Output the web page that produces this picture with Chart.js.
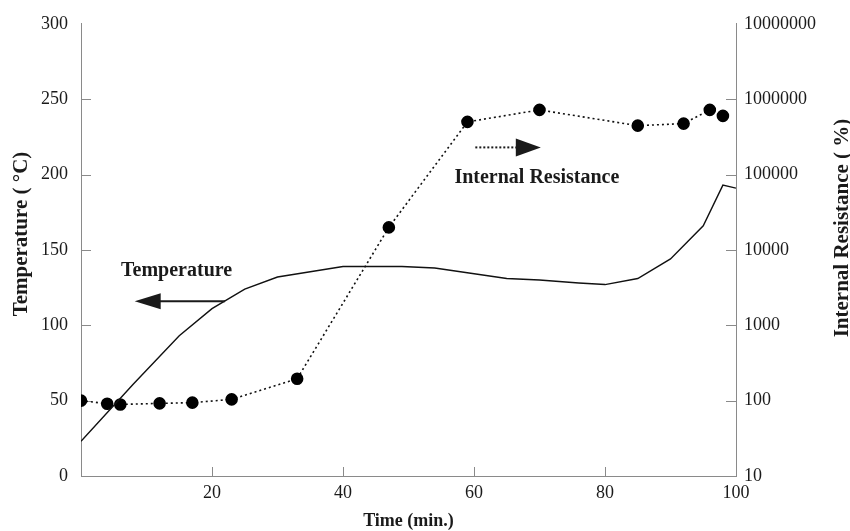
<!DOCTYPE html>
<html>
<head>
<meta charset="utf-8">
<script src="https://cdn.jsdelivr.net/npm/chart.js@4/dist/chart.umd.min.js"></script>
<style>
  html, body { margin: 0; padding: 0; background: #fff; }
  #wrap { width: 850px; height: 531px; }
</style>
</head>
<body>
<div id="wrap"><canvas id="myChart" width="850" height="531"></canvas></div>
<script>
// temperature curve (solid line, left axis)
var tempTime = [0, 8, 15, 20, 25, 30, 40, 49, 54, 65, 70, 76, 80, 85, 90, 95, 98, 100];
var tempValue = [23, 61, 93, 111, 124, 132, 139, 139, 138, 131, 130, 128, 127, 131, 144, 166, 193, 191];

// internal resistance (dotted line with dots, right log axis)
var resTime = [0, 4, 6, 12, 17, 23, 33, 47, 59, 70, 85, 92, 96, 98];
var resValue = [100, 91, 89, 92, 94, 104, 195, 19900, 500000, 720000, 445000, 474000, 720000, 600000];

// tick labels
var timeTicks = [0, 20, 40, 60, 80, 100];
var tempTicks = [0, 50, 100, 150, 200, 250, 300];
var resTicks = [10, 100, 1000, 10000, 100000, 1000000, 10000000];

var axisColor = '#8a8a8a';
var textColor = '#1a1a1a';
var serif = "'Liberation Serif', 'Times New Roman', serif";

// where the annotations sit, in data units
var notes = {
    tempLabel: { t: 14.6, v: 136 },
    tempArrow: { from: 22, to: 8.2, v: 116 },
    resLabel: { t: 69.6, v: 198 },
    resArrow: { from: 60.2, to: 70.2, v: 218 }
};

function pairs(xs, ys) {
    return xs.map(function (x, i) { return { x: x, y: ys[i] }; });
}

// tick marks pointing into the plot
var inwardTicks = {
    id: 'inwardTicks',
    beforeDatasetsDraw: function (chart) {
        var ctx = chart.ctx, a = chart.chartArea, s = chart.scales;
        ctx.save();
        ctx.strokeStyle = axisColor;
        ctx.lineWidth = 1;
        ctx.beginPath();
        timeTicks.forEach(function (v) {
            if (v <= 0 || v >= 100) return;
            var px = Math.round(s.x.getPixelForValue(v)) + 0.5;
            ctx.moveTo(px, a.bottom);
            ctx.lineTo(px, a.bottom - 9);
        });
        tempTicks.forEach(function (v) {
            if (v <= 0 || v >= 300) return;
            var py = Math.round(s.y.getPixelForValue(v)) + 0.5;
            ctx.moveTo(a.left, py);
            ctx.lineTo(a.left + 10, py);
        });
        resTicks.forEach(function (v) {
            if (v <= 10 || v >= 10000000) return;
            var py = Math.round(s.y1.getPixelForValue(v)) + 0.5;
            ctx.moveTo(a.right, py);
            ctx.lineTo(a.right - 10, py);
        });
        ctx.stroke();
        ctx.restore();
    }
};

function verticalText(ctx, text, x, y) {
    ctx.save();
    ctx.translate(x, y);
    ctx.rotate(-Math.PI / 2);
    ctx.fillText(text, 0, 0);
    ctx.restore();
}

// text labels, arrows and the two y axis titles
var annotations = {
    id: 'annotations',
    afterDatasetsDraw: function (chart) {
        var ctx = chart.ctx, a = chart.chartArea, x = chart.scales.x, y = chart.scales.y;
        ctx.save();
        ctx.fillStyle = textColor;
        ctx.strokeStyle = textColor;
        ctx.font = 'bold 20px ' + serif;
        ctx.textAlign = 'center';
        ctx.textBaseline = 'middle';
        ctx.fillText('Temperature', x.getPixelForValue(notes.tempLabel.t), y.getPixelForValue(notes.tempLabel.v));
        ctx.fillText('Internal Resistance', x.getPixelForValue(notes.resLabel.t), y.getPixelForValue(notes.resLabel.v));

        // temperature arrow (solid, pointing left)
        var ty = y.getPixelForValue(notes.tempArrow.v);
        var tx0 = x.getPixelForValue(notes.tempArrow.from);
        var tx1 = x.getPixelForValue(notes.tempArrow.to);
        ctx.lineWidth = 2;
        ctx.beginPath();
        ctx.moveTo(tx0, ty);
        ctx.lineTo(tx1 + 20, ty);
        ctx.stroke();
        ctx.beginPath();
        ctx.moveTo(tx1, ty);
        ctx.lineTo(tx1 + 26, ty - 8);
        ctx.lineTo(tx1 + 26, ty + 8);
        ctx.closePath();
        ctx.fill();

        // resistance arrow (dotted, pointing right)
        var ry = y.getPixelForValue(notes.resArrow.v);
        var rx0 = x.getPixelForValue(notes.resArrow.from);
        var rx1 = x.getPixelForValue(notes.resArrow.to);
        ctx.setLineDash([2, 2]);
        ctx.beginPath();
        ctx.moveTo(rx0, ry);
        ctx.lineTo(rx1 - 24, ry);
        ctx.stroke();
        ctx.setLineDash([]);
        ctx.beginPath();
        ctx.moveTo(rx1, ry);
        ctx.lineTo(rx1 - 25, ry - 9);
        ctx.lineTo(rx1 - 25, ry + 9);
        ctx.closePath();
        ctx.fill();

        // y axis titles, both read bottom to top
        ctx.font = 'bold 21px ' + serif;
        verticalText(ctx, 'Temperature ( °C)', 22, 234);
        verticalText(ctx, 'Internal Resistance ( %)', 843, 228);
        ctx.restore();
    }
};

var ctx = document.getElementById('myChart').getContext('2d');
var myChart = new Chart(ctx, {
    type: 'line',
    data: {
        datasets: [{
            label: 'Temperature',
            data: pairs(tempTime, tempValue),
            yAxisID: 'y',
            borderColor: '#111',
            borderWidth: 1.4,
            pointRadius: 0,
            tension: 0,
            fill: false
        }, {
            label: 'Internal Resistance',
            data: pairs(resTime, resValue),
            yAxisID: 'y1',
            borderColor: '#111',
            borderWidth: 1.6,
            borderDash: [2, 3],
            pointRadius: 5.5,
            pointBackgroundColor: '#000',
            pointBorderColor: '#000',
            tension: 0,
            fill: false
        }]
    },
    options: {
        responsive: false,
        animation: false,
        layout: { padding: { top: 18, left: 0, right: 0, bottom: 0 } },
        plugins: {
            legend: { display: false },
            tooltip: { enabled: false }
        },
        scales: {
            x: {
                type: 'linear',
                min: 0,
                max: 100,
                afterBuildTicks: function (s) { s.ticks = timeTicks.map(function (v) { return { value: v }; }); },
                afterFit: function (s) { s.height = 55; },
                grid: { drawOnChartArea: false, drawTicks: false },
                border: { display: true, color: axisColor, width: 1 },
                ticks: {
                    padding: 6,
                    color: textColor,
                    font: { family: serif, size: 18 },
                    maxRotation: 0,
                    callback: function (v) { return v === 0 ? '' : String(v); }
                },
                title: {
                    display: true,
                    text: 'Time (min.)',
                    color: textColor,
                    font: { family: serif, size: 18, weight: 'bold' },
                    padding: { top: 0, bottom: -1 }
                }
            },
            y: {
                type: 'linear',
                position: 'left',
                min: 0,
                max: 300,
                afterBuildTicks: function (s) { s.ticks = tempTicks.map(function (v) { return { value: v }; }); },
                afterFit: function (s) { s.width = 81; },
                grid: { drawOnChartArea: false, drawTicks: false },
                border: { display: true, color: axisColor, width: 1 },
                ticks: {
                    padding: 13,
                    color: textColor,
                    font: { family: serif, size: 18 }
                }
            },
            y1: {
                type: 'logarithmic',
                position: 'right',
                min: 10,
                max: 10000000,
                afterBuildTicks: function (s) { s.ticks = resTicks.map(function (v) { return { value: v }; }); },
                afterFit: function (s) { s.width = 114; },
                grid: { drawOnChartArea: false, drawTicks: false },
                border: { display: true, color: axisColor, width: 1 },
                ticks: {
                    padding: 8,
                    color: textColor,
                    font: { family: serif, size: 18 },
                    callback: function (v) { return String(v); }
                }
            }
        }
    },
    plugins: [inwardTicks, annotations]
});
</script>
</body>
</html>
